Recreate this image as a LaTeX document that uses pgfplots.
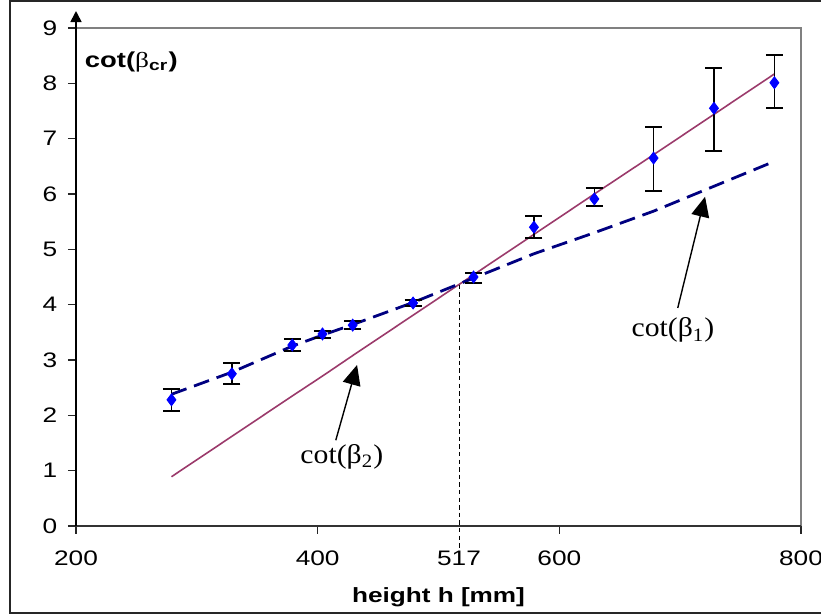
\documentclass[border=0pt]{standalone}
\usepackage{fontspec}
\setmainfont{Liberation Sans}
\setsansfont{Liberation Sans}
\newfontfamily\tnr{Liberation Serif}
\usepackage{pgfplots}
\pgfplotsset{compat=1.18}
\usetikzlibrary{arrows.meta}
\definecolor{betaone}{HTML}{000080}
\definecolor{betatwo}{HTML}{9B3A6B}
\definecolor{pts}{HTML}{0000FF}

\begin{document}
\begin{tikzpicture}
\useasboundingbox (0,0) rectangle (410.5pt,307.5pt);
% outer chart frame (right edge cut off in the original)
\draw[black!85, line width=0.8pt] (420pt,307pt) -- (5pt,307pt) -- (5pt,1pt) -- (420pt,1pt);
\begin{axis}[
  at={(38pt,44.5pt)}, anchor=south west,
  scale only axis, width=362.5pt, height=249pt,
  xmin=200, xmax=800, ymin=0, ymax=9,
  xtick={200,400,600,800}, ytick={0,1,...,9},
  extra x ticks={517},
  extra x tick style={major tick style={draw=none}},
  tick align=outside, major tick length=4pt,
  xtick pos=bottom, ytick pos=left,
  tick style={black!85, line width=0.6pt},
  axis line style={draw=none},
  /pgf/number format/assume math mode=true,
  /pgf/number format/set thousands separator={},
  tick label style={font=\fontsize{10.5}{12}\selectfont, xscale=1.25},
  xticklabel style={yshift=-5pt},
  yticklabel style={xshift=-0.8pt},
  xlabel={height h [mm]},
  xlabel style={font=\bfseries\fontsize{10.3}{12}\selectfont, xscale=1.27,
    at={(axis description cs:0.5,0)}, anchor=center, yshift=-35.5pt},
  clip=false,
]
% plot area border and axes
\draw[gray, line width=0.6pt] (rel axis cs:0,1) -- (rel axis cs:1,1) -- (rel axis cs:1,0);
\draw[black!80, line width=0.7pt] (rel axis cs:0,0) -- (rel axis cs:1,0);
\draw[black, line width=0.8pt, -{Triangle[length=5.5pt,width=5.5pt]}]
  (rel axis cs:0,0) -- ([yshift=8.5pt]rel axis cs:0,1);
% cot(beta_2), straight fit
\addplot[betatwo, line width=0.8pt] coordinates {
  (279,0.89) (329,1.62) (379,2.35) (404,2.71) (429,3.08) (479,3.81)
  (529,4.54) (579,5.27) (629,6.00) (678,6.71) (728,7.44) (778,8.17)};
% cot(beta_1), dashed
\addplot[betaone, line width=1.4pt, dash pattern=on 8pt off 4pt] coordinates {
  (279,2.38) (329,2.78) (379,3.25) (404,3.45) (429,3.64) (479,4.04)
  (529,4.48) (579,4.92) (629,5.30) (678,5.69) (728,6.14) (778,6.59)};
% measured points with asymmetric error bars
\addplot[only marks, mark=diamond*, mark size=3pt,
  mark options={fill=pts, draw=pts},
  error bars/.cd, y dir=both, y explicit,
  error bar style={black, line width=0.85pt},
  error mark options={rotate=90, black, mark size=4.25pt, line width=0.85pt}]
  coordinates {
  (279,2.28) += (0,0.20) -= (0,0.20)
  (329,2.75) += (0,0.20) -= (0,0.18)
  (379,3.27) += (0,0.11) -= (0,0.11)
  (404,3.47) += (0,0.05) -= (0,0.07)
  (429,3.63) += (0,0.08) -= (0,0.07)
  (479,4.03) += (0,0.05) -= (0,0.05)
  (529,4.50) += (0,0.07) -= (0,0.11)
  (579,5.40) += (0,0.20) -= (0,0.19)
  (629,5.91) += (0,0.20) -= (0,0.13)
  (678,6.65) += (0,0.56) -= (0,0.60)
  (728,7.55) += (0,0.73) -= (0,0.77)
  (778,8.01) += (0,0.50) -= (0,0.46)};
% crossover marker
\draw[black, line width=0.5pt, dash pattern=on 2.2pt off 1.6pt]
  (axis cs:517,4.36) -- (axis cs:517,-0.42);
% axis title
\node[anchor=west, inner sep=0pt, font=\bfseries\fontsize{10.8}{12}\selectfont, xscale=1.27]
  at (axis cs:207,8.39) {cot({\tnr\mdseries β}\textsubscript{cr})};
% annotations
\node[font=\tnr\fontsize{13.5}{16}\selectfont, xscale=1.1]
  at (axis cs:694,3.54) {cot(β\textsubscript{1})};
\draw[black, line width=0.7pt, -{Triangle[length=10pt,width=9pt]}]
  (axis cs:698,3.94) -- (axis cs:720.6,5.95);
\node[font=\tnr\fontsize{13.5}{16}\selectfont, xscale=1.1]
  at (axis cs:420,1.25) {cot(β\textsubscript{2})};
\draw[black, line width=0.7pt, -{Triangle[length=10pt,width=9pt]}]
  (axis cs:415,1.55) -- (axis cs:432.6,2.91);
\end{axis}
\end{tikzpicture}
\end{document}
